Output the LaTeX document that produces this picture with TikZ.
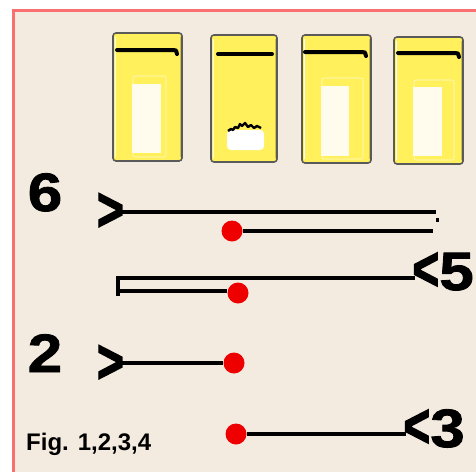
\documentclass[tikz,border=0pt]{standalone}
\usepackage{fontspec}
\setmainfont{Liberation Sans}
\newfontfamily\widefont{Liberation Sans}[FakeStretch=1.15, FakeBold=1.5]
\newfontfamily\heavyfont{Liberation Sans}[FakeBold=2.5]
\usepackage{tikz}
\usetikzlibrary{calc}
\definecolor{paper}{RGB}{243,235,224}
\definecolor{frame}{RGB}{250,112,112}
\definecolor{gelyellow}{RGB}{255,240,92}
\definecolor{gelrim}{RGB}{90,90,90}
\definecolor{dotred}{RGB}{238,0,0}
\definecolor{well}{RGB}{255,252,238}
\newcommand{\ltmark}{{\heavyfont\bfseries\scalebox{0.85}[1.15]{<}}}
\newcommand{\gtmark}{{\heavyfont\bfseries\scalebox{0.85}[1.15]{>}}}
\tikzstyle{tube}   = [draw=gelrim, line width=1.6pt, fill=gelyellow, rounded corners=3pt, inner sep=0pt]
\tikzstyle{strand} = [line width=3.6pt, black]
\tikzstyle{band}   = [line width=4pt, black, line cap=round]
\tikzstyle{dot}    = [circle, fill=dotred, inner sep=0pt, minimum size=21pt]
\tikzset{
	big/.style={font=\widefont\fontsize{54}{54}\selectfont\bfseries, inner sep=0pt},
	primer/.style={font=\fontsize{54}{54}\selectfont, inner sep=0pt},
	caption/.style={font=\fontsize{24}{24}\selectfont\bfseries, inner sep=0pt},
}

\begin{document}
\begin{tikzpicture}[x=1pt,y=-1pt]
	\useasboundingbox (0,0) rectangle (476,471);
	\clip (0,0) rectangle (476,471);
	\fill[white] (0,0) rectangle (476,471);
	\draw[frame, line width=3pt, fill=paper] (13.5,10.5) rectangle (500,500);

	\node[tube, minimum width=69pt, minimum height=128pt] (t1) at (147.5,97) {};
	\node[tube, minimum width=66pt, minimum height=127pt] (t2) at (244,98.5) {};
	\node[tube, minimum width=69pt, minimum height=128pt] (t3) at (336.5,99) {};
	\node[tube, minimum width=69pt, minimum height=127pt] (t4) at (428.5,100.5) {};
	\foreach \t in {t1,t2,t3,t4} {
		\draw[white, line width=1.4pt] ([xshift=3.5pt,yshift=-5pt]\t.north west) -- ([xshift=3.5pt,yshift=5pt]\t.south west);
		\draw[gelyellow!80!black, line width=1pt] ([xshift=-2.5pt,yshift=-5pt]\t.north east) -- ([xshift=-2.5pt,yshift=5pt]\t.south east);
	}

	\draw[band] (117,50) -- (173,50) .. controls (176,50) .. (177,54);
	\draw[band] (218,54) -- (272,54);
	\draw[band] (305,52) -- (362,52) .. controls (365,52) .. (366,56);
	\draw[band] (398,53) -- (455,53) .. controls (458,53) .. (459,57);

	\draw[gelyellow!30!white, line width=0.6pt, rounded corners=2pt] (133,76) rectangle (166,157);
	\draw[gelyellow!30!white, line width=0.6pt, rounded corners=2pt] (322,78) rectangle (363,159);
	\draw[gelyellow!30!white, line width=0.6pt, rounded corners=2pt] (414,80) rectangle (454,160);
	\fill[well] (132,84) rectangle (161,153);
	\fill[well] (321,86) rectangle (349,156);
	\fill[well] (413,87) rectangle (442,156);
	\fill[white, rounded corners=4pt] (227,130) rectangle (264,150);
	\draw[line width=2.4pt, line join=round] (228,131) -- (231,129) -- (233,130) -- (235,127) -- (238,128) -- (240,124) -- (242,126) -- (245,123) -- (248,127) -- (251,125) -- (254,128) -- (257,126) -- (261,128);

	\node[big, anchor=base] (n6) at (45,211) {6};
	\node[primer, anchor=east] (p6) at (124,212) {\gtmark};
	\coordinate (e6) at (436,212);
	\node[dot] (d6) at (232,231) {};
	\coordinate (c6) at (433,231);
	\draw[strand, shorten <=-2pt] (e6 -| p6.east) -- (e6);
	\fill (435.5,218) rectangle (439,222);
	\draw[strand] (d6.east) -- (c6);

	\node[big, anchor=base east] (l5) at (474,290) {\ltmark5};
	\coordinate (s5) at (116,278);
	\coordinate (b5) at (118,291);
	\node[dot] (d5) at (238,293) {};
	\draw[strand, shorten >=-3pt] (s5) -- (s5 -| l5.west);
	\draw[line width=4pt] (118,276) -- (118,295.5);
	\draw[strand] (b5) -- (b5 -| d5.west);

	\node[big, anchor=base] (n2) at (45,372) {2};
	\node[primer, anchor=east] (p2) at (124,364) {\gtmark};
	\node[dot] (d2) at (234,363) {};
	\draw[strand, shorten <=-2pt] (d2 -| p2.east) -- (d2.west);

	\node[dot] (d3) at (236,434) {};
	\node[big, anchor=base east] (l3) at (465,447) {\ltmark3};
	\draw[strand, shorten >=-3pt] (d3.east) -- (d3 -| l3.west);

	\node[caption, anchor=base west] (fig) at (26,450) {Fig. 1,2,3,4};
\end{tikzpicture}
\end{document}
